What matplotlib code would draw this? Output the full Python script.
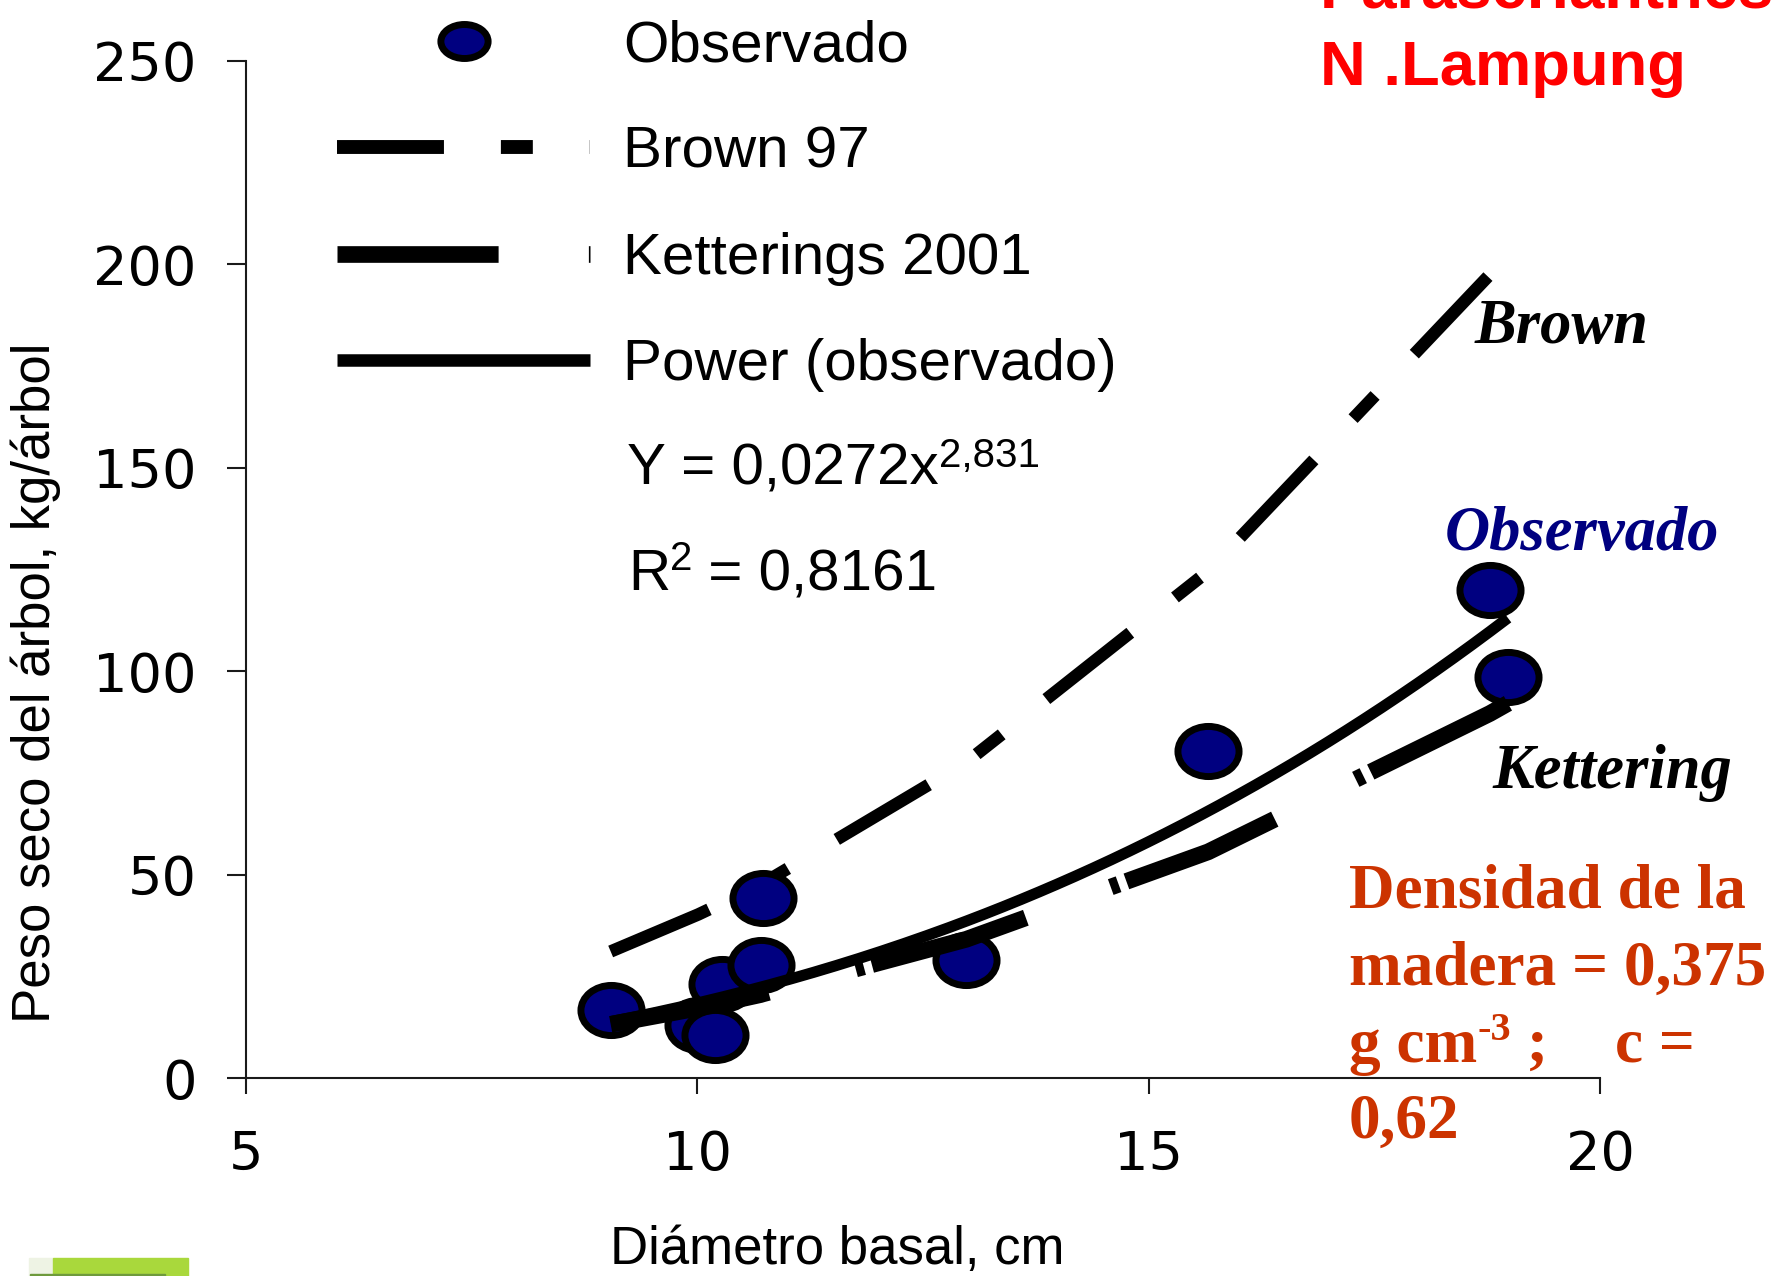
import numpy as np
import matplotlib
matplotlib.use("Agg")
import matplotlib.pyplot as plt
from matplotlib.path import Path
from matplotlib.lines import Line2D
from matplotlib.patches import Rectangle

plt.rcParams['font.family'] = ['Liberation Sans', 'DejaVu Sans']
plt.rcParams['lines.scale_dashes'] = False

# Basal diameter (cm) and dry weight (kg/tree)
diametro = [9.04, 10.01, 10.20, 10.27, 10.70, 10.73, 12.98, 15.66, 18.78, 18.98]
peso_obs = [16.7, 13.0, 10.6, 23.0, 27.8, 44.2, 29.0, 80.3, 120.0, 98.6]
peso_brown = [31.1, 40.2, 42.2, 42.9, 47.6, 47.9, 77.6, 124.6, 197.5, 202.9]
peso_kett = [13.2, 17.2, 18.1, 18.4, 20.5, 20.7, 34.1, 55.6, 89.6, 92.1]

# Power trendline of the observed data
coef_a = 0.0272
coef_b = 2.831
coef_a_txt = "0,0272"
coef_b_txt = "2,831"
r2_txt = "0,8161"

x_ticks = [5, 10, 15, 20]
y_ticks = [0, 50, 100, 150, 200, 250]

W, H = 1786, 1276
fig = plt.figure(figsize=(W / 100, H / 100), dpi=100)
ax = fig.add_axes([246 / W, 1 - 1078 / H, (1600 - 246) / W, (1078 - 61) / H])
ax.set_xlim(5, 20)
ax.set_ylim(0, 250)

navy = '#000080'
circle = Path.unit_circle()
ellipse = Path(circle.vertices * np.array([1.0, 0.82]), circle.codes)
ellipse_leg = Path(circle.vertices * np.array([1.0, 0.72]), circle.codes)

brown_dash = (77, 41, 23, 41)
kett_dash = (116, 65, 6, 6)

ax.plot(diametro, peso_brown, color='black', lw=9, dashes=brown_dash,
        dash_capstyle='butt', zorder=1)
ax.plot(diametro, peso_obs, ls='none', marker=ellipse, ms=44, mfc=navy,
        mec='black', mew=5, zorder=2)
ax.plot(diametro, peso_kett, color='black', lw=12, dashes=kett_dash,
        dash_capstyle='butt', zorder=3)
x_fit = np.linspace(min(diametro), max(diametro), 200)
ax.plot(x_fit, coef_a * x_fit ** coef_b, color='black', lw=8,
        solid_capstyle='butt', zorder=3)

# Axes styling
for side in ('top', 'right'):
    ax.spines[side].set_visible(False)
for side in ('left', 'bottom'):
    ax.spines[side].set_linewidth(1.5)
    ax.spines[side].set_color('#1a1a1a')
ax.set_xticks(x_ticks)
ax.set_yticks(y_ticks)
ax.tick_params(axis='y', direction='out', length=13.7, width=1.5, pad=22,
               labelsize=39, color='#1a1a1a')
ax.tick_params(axis='x', direction='out', length=11.5, width=1.5, pad=25,
               labelsize=39, color='#1a1a1a')
for lab in ax.get_xticklabels() + ax.get_yticklabels():
    lab.set_family(['DejaVu Sans'])

fig.text(837 / W, 1 - 1250 / H, 'Diámetro basal, cm', fontsize=38,
         ha='center', va='center')
fig.text(36 / W, 1 - 683 / H, 'Peso seco del árbol, kg/árbol', fontsize=38,
         ha='center', va='center', rotation=90)

# Legend
handles = [
    Line2D([], [], ls='none', marker=ellipse_leg, ms=34, mfc=navy, mec='black', mew=5),
    Line2D([], [], color='black', lw=10, dashes=brown_dash, dash_capstyle='butt'),
    Line2D([], [], color='black', lw=12, dashes=kett_dash, dash_capstyle='butt'),
    Line2D([], [], color='black', lw=9, solid_capstyle='butt'),
]
labels = ['Observado', 'Brown 97', 'Ketterings 2001', 'Power (observado)']
fig.legend(handles, labels, loc='upper left',
           bbox_to_anchor=(337 / W, 1 - 19 / H), frameon=False, fontsize=42,
           handlelength=4.34, handletextpad=0.56, labelspacing=0.90,
           borderpad=0, borderaxespad=0, numpoints=1)

renderer = fig.canvas.get_renderer()


def place_pieces(x_px, y_px, pieces, **kw):
    """Write text pieces one after another on a shared baseline."""
    x = x_px
    for s, size, rise in pieces:
        t = fig.text(x / W, 1 - (y_px - rise) / H, s, fontsize=size,
                     ha='left', va='baseline', **kw)
        x = t.get_window_extent(renderer).x1
    return x


place_pieces(627, 484, [('Y = ' + coef_a_txt + 'x', 42, 0), (coef_b_txt, 29, 17)])
place_pieces(628, 590, [('R', 42, 0), ('2', 29, 20), (' = ' + r2_txt, 42, 0)])

# Curve labels
serif_bi = dict(family=['Liberation Serif', 'DejaVu Serif'], weight='bold', style='italic')
fig.text(1475 / W, 1 - 343 / H, 'Brown', fontsize=45, ha='left', va='baseline',
         color='black', **serif_bi)
fig.text(1445 / W, 1 - 550 / H, 'Observado', fontsize=45, ha='left', va='baseline',
         color=navy, **serif_bi)
fig.text(1492 / W, 1 - 788 / H, 'Kettering', fontsize=45, ha='left', va='baseline',
         color='black', **serif_bi)

# Wood density note
dens = dict(family=['Liberation Serif', 'DejaVu Serif'], weight='bold', color='#CC3300')
fig.text(1349 / W, 1 - 908 / H, 'Densidad de la', fontsize=45.5, ha='left',
         va='baseline', **dens)
fig.text(1349 / W, 1 - 985 / H, 'madera = 0,375', fontsize=45.5, ha='left',
         va='baseline', **dens)
place_pieces(1349, 1062, [('g cm', 45.5, 0), ('-3', 29, 22), (' ;', 45.5, 0)], **dens)
fig.text(1615 / W, 1 - 1062 / H, 'c =', fontsize=45.5, ha='left', va='baseline', **dens)
fig.text(1349 / W, 1 - 1138 / H, '0,62', fontsize=45.5, ha='left', va='baseline', **dens)

# Title
fig.text(1320 / W, 1 - 8 / H, 'Paraserianthes', fontsize=45.6, weight='bold',
         color='#FF0000', ha='left', va='baseline')
fig.text(1320 / W, 1 - 85 / H, 'N .Lampung', fontsize=45.6, weight='bold',
         color='#FF0000', ha='left', va='baseline')

# Corner badge
fig.patches.append(Rectangle((29 / W, 0), 24 / W, 18 / H, transform=fig.transFigure,
                             color='#EEF3E4', zorder=0))
fig.patches.append(Rectangle((53 / W, 0), 135 / W, 18 / H, transform=fig.transFigure,
                             color='#A9D83C', zorder=0))
fig.patches.append(Rectangle((30 / W, 0), 135 / W, 2 / H, transform=fig.transFigure,
                             color='#6E9A3C', zorder=0))

fig.savefig('out.png', dpi=100)
